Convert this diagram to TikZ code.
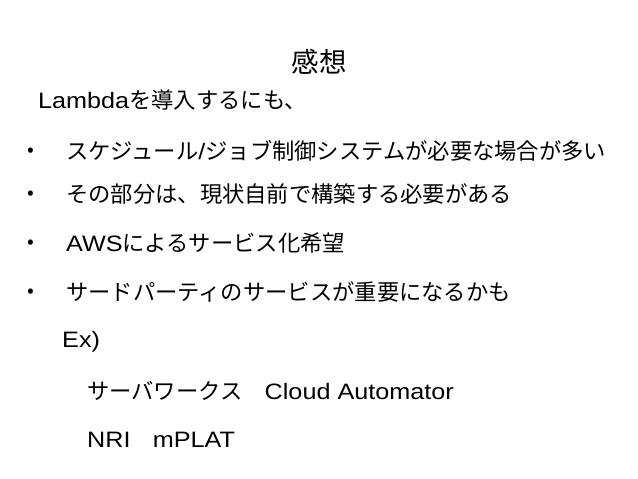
\documentclass[tikz,border=0pt]{standalone}
\usepackage{fontspec}
\setmainfont{Noto Sans CJK JP}
\newfontfamily\lat[FakeStretch=1.13]{Liberation Sans}
\newcommand{\en}[1]{{\lat #1}}
\usetikzlibrary{positioning}

\begin{document}
\begin{tikzpicture}[x=1pt,y=-1pt,
    every node/.style={inner sep=0pt,font=\fontsize{22.3}{26}\selectfont},
    line/.style={anchor=west},
    dot/.style={font=\fontsize{20}{22}\selectfont}]
  \useasboundingbox (0,0) rectangle (638,479);
  \node (title) at (319,62) [font=\fontsize{27.5}{32}\selectfont] {感想};
  \node (intro) at (38,100) [line] {\en{Lambda}を導入するにも、};
  \node (dotA) at (31,152) [dot] {•};
  \node (itemA) at (66,151) [line] {スケジュール\en{/}ジョブ制御システムが必要な場合が多い};
  \node (dotB) at (31,195) [dot] {•};
  \node (itemB) at (66,194) [line] {その部分は、現状自前で構築する必要がある};
  \node (dotC) at (31,244) [dot] {•};
  \node (itemC) at (66,243) [line] {\en{AWS}によるサービス化希望};
  \node (dotD) at (31,293) [dot] {•};
  \node (itemD) at (66,292) [line] {サードパーティのサービスが重要になるかも};
  \node (ex) at (62,342) [line] {\en{Ex)}};
  \node (exA) at (87,391) [line] {サーバワークス　\en{Cloud Automator}};
  \node (exB) at (87,440) [line] {\en{NRI}　\en{mPLAT}};
\end{tikzpicture}
\end{document}
